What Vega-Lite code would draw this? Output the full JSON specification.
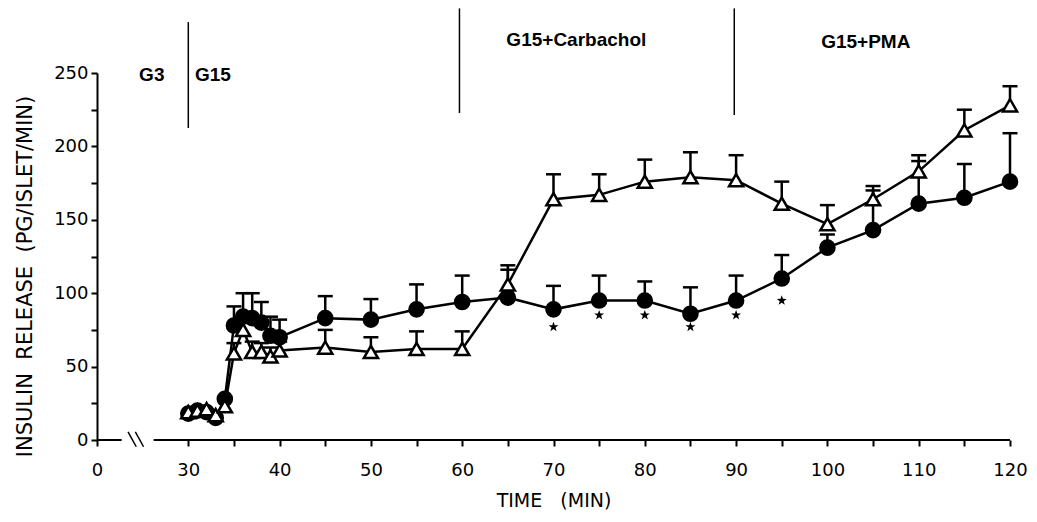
{
  "$schema": "https://vega.github.io/schema/vega-lite/v6.json",
  "width": 913,
  "height": 367,
  "autosize": "none",
  "padding": {"left": 97, "top": 73, "right": 27, "bottom": 82},
  "background": "white",
  "config": {
    "view": {"stroke": null},
    "axis": {"labelFont": "DejaVu Sans", "titleFont": "DejaVu Sans", "labelColor": "black", "titleColor": "black", "tickColor": "black", "domainColor": "black", "grid": false, "titleFontWeight": "normal"}
  },
  "datasets": {
    "series": [
      {"series": "A", "t": 30, "v": 18, "err": null},
      {"series": "A", "t": 31, "v": 20, "err": null},
      {"series": "A", "t": 32, "v": 19, "err": null},
      {"series": "A", "t": 33, "v": 15, "err": null},
      {"series": "A", "t": 34, "v": 28, "err": null},
      {"series": "A", "t": 35, "v": 78, "err": 91},
      {"series": "A", "t": 36, "v": 84, "err": 100},
      {"series": "A", "t": 37, "v": 83, "err": 100},
      {"series": "A", "t": 38, "v": 80, "err": 94},
      {"series": "A", "t": 39, "v": 71, "err": 84},
      {"series": "A", "t": 40, "v": 70, "err": 82},
      {"series": "A", "t": 45, "v": 83, "err": 98},
      {"series": "A", "t": 50, "v": 82, "err": 96},
      {"series": "A", "t": 55, "v": 89, "err": 106},
      {"series": "A", "t": 60, "v": 94, "err": 112},
      {"series": "A", "t": 65, "v": 97, "err": 116},
      {"series": "A", "t": 70, "v": 89, "err": 105},
      {"series": "A", "t": 75, "v": 95, "err": 112},
      {"series": "A", "t": 80, "v": 95, "err": 108},
      {"series": "A", "t": 85, "v": 86, "err": 104},
      {"series": "A", "t": 90, "v": 95, "err": 112},
      {"series": "A", "t": 95, "v": 110, "err": 126},
      {"series": "A", "t": 100, "v": 131, "err": 140},
      {"series": "A", "t": 105, "v": 143, "err": 170},
      {"series": "A", "t": 110, "v": 161, "err": 190},
      {"series": "A", "t": 115, "v": 165, "err": 188},
      {"series": "A", "t": 120, "v": 176, "err": 209},
      {"series": "B", "t": 30, "v": 19, "err": null},
      {"series": "B", "t": 31, "v": 20, "err": null},
      {"series": "B", "t": 32, "v": 21, "err": null},
      {"series": "B", "t": 33, "v": 17, "err": null},
      {"series": "B", "t": 34, "v": 23, "err": null},
      {"series": "B", "t": 35, "v": 59, "err": 66},
      {"series": "B", "t": 36, "v": 75, "err": 82},
      {"series": "B", "t": 37, "v": 60, "err": 67},
      {"series": "B", "t": 38, "v": 60, "err": 66},
      {"series": "B", "t": 39, "v": 57, "err": 63},
      {"series": "B", "t": 40, "v": 61, "err": 67},
      {"series": "B", "t": 45, "v": 63, "err": 75},
      {"series": "B", "t": 50, "v": 60, "err": 70},
      {"series": "B", "t": 55, "v": 62, "err": 74},
      {"series": "B", "t": 60, "v": 62, "err": 74},
      {"series": "B", "t": 65, "v": 106, "err": 119},
      {"series": "B", "t": 70, "v": 164, "err": 181},
      {"series": "B", "t": 75, "v": 167, "err": 181},
      {"series": "B", "t": 80, "v": 176, "err": 191},
      {"series": "B", "t": 85, "v": 179, "err": 196},
      {"series": "B", "t": 90, "v": 177, "err": 194},
      {"series": "B", "t": 95, "v": 161, "err": 176},
      {"series": "B", "t": 100, "v": 147, "err": 160},
      {"series": "B", "t": 105, "v": 164, "err": 173},
      {"series": "B", "t": 110, "v": 183, "err": 194},
      {"series": "B", "t": 115, "v": 211, "err": 225},
      {"series": "B", "t": 120, "v": 228, "err": 241}
    ],
    "stars": [
      {"t": 70, "v": 77}, {"t": 75, "v": 85}, {"t": 80, "v": 85},
      {"t": 85, "v": 77}, {"t": 90, "v": 85}, {"t": 95, "v": 95}
    ],
    "phases": [
      {"t": 30, "v": 212.5, "v2": 284.7},
      {"t": 59.7, "v": 222.8, "v2": 294},
      {"t": 89.8, "v": 221.4, "v2": 294}
    ],
    "labels": [
      {"t": 26.0, "v": 248.6, "label": "G3"},
      {"t": 32.7, "v": 248.6, "label": "G15"},
      {"t": 72.5, "v": 272.5, "label": "G15+Carbachol"},
      {"t": 104.2, "v": 271, "label": "G15+PMA"}
    ],
    "axisline": [
      {"t": 20, "t2": 22.7, "v": 0},
      {"t": 26.2, "t2": 120, "v": 0}
    ],
    "breaks": [
      {"t": 23.4, "t2": 24.3, "v": 5.6, "v2": -4.6},
      {"t": 24.2, "t2": 25.1, "v": 5.6, "v2": -4.6}
    ]
  },
  "encoding": {
    "x": {
      "field": "t", "type": "quantitative",
      "scale": {"domain": [20, 120], "nice": false, "zero": false},
      "title": "TIME\u00a0\u00a0\u00a0(MIN)",
      "axis": {
        "values": [20, 30, 35, 40, 45, 50, 55, 60, 65, 70, 75, 80, 85, 90, 95, 100, 105, 110, 115, 120],
        "labelExpr": "datum.value == 20 ? '0' : (datum.value % 10 == 0 ? datum.label : '')",
        "domain": false, "tickSize": 6, "tickWidth": 2, "labelFontSize": 18, "labelPadding": 15,
        "titleFontSize": 19, "titlePadding": 12, "labelFlush": false, "labelOverlap": false
      }
    },
    "y": {
      "field": "v", "type": "quantitative",
      "scale": {"domain": [0, 250], "nice": false},
      "title": "INSULIN\u00a0\u00a0RELEASE\u00a0\u00a0(PG/ISLET/MIN)",
      "axis": {
        "values": [0, 25, 50, 75, 100, 125, 150, 175, 200, 225, 250],
        "labelExpr": "datum.value % 50 == 0 ? datum.label : ''",
        "domainWidth": 2, "tickSize": 6, "tickWidth": 2, "labelFontSize": 18, "labelPadding": 3,
        "titleFontSize": 21, "titlePadding": 18, "titleY": 203, "labelOverlap": false
      }
    }
  },
  "layer": [
    {
      "data": {"name": "phases"},
      "mark": {"type": "rule", "strokeWidth": 1.5, "color": "black"},
      "encoding": {"y2": {"field": "v2"}}
    },
    {
      "data": {"name": "labels"},
      "mark": {"type": "text", "font": "Liberation Sans", "fontSize": 19, "fontWeight": "bold", "align": "center", "baseline": "middle", "color": "black"},
      "encoding": {"text": {"field": "label"}}
    },
    {
      "data": {"name": "axisline"},
      "mark": {"type": "rule", "strokeWidth": 2, "color": "black"},
      "encoding": {"x2": {"field": "t2"}}
    },
    {
      "data": {"name": "breaks"},
      "mark": {"type": "rule", "strokeWidth": 1.5, "color": "black"},
      "encoding": {"x2": {"field": "t2"}, "y2": {"field": "v2"}}
    },
    {
      "data": {"name": "series"},
      "mark": {"type": "line", "strokeWidth": 2.5, "color": "black"},
      "encoding": {"detail": {"field": "series"}}
    },
    {
      "data": {"name": "series"},
      "transform": [{"filter": "datum.err != null"}],
      "mark": {"type": "rule", "strokeWidth": 2.5, "color": "black"},
      "encoding": {"y2": {"field": "err"}}
    },
    {
      "data": {"name": "series"},
      "transform": [{"filter": "datum.err != null"}],
      "mark": {"type": "tick", "orient": "horizontal", "size": 15, "thickness": 2.5, "color": "black", "opacity": 1},
      "encoding": {"y": {"field": "err", "type": "quantitative", "title": "INSULIN\u00a0\u00a0RELEASE\u00a0\u00a0(PG/ISLET/MIN)"}}
    },
    {
      "data": {"name": "series"},
      "mark": {"type": "point", "stroke": "black", "strokeWidth": 2.5, "size": 200, "opacity": 1, "fillOpacity": 1},
      "encoding": {
        "shape": {"field": "series", "type": "nominal", "scale": {"domain": ["A", "B"], "range": ["circle", "triangle-up"]}, "legend": null},
        "fill": {"field": "series", "type": "nominal", "scale": {"domain": ["A", "B"], "range": ["black", "white"]}, "legend": null}
      }
    },
    {
      "data": {"name": "stars"},
      "mark": {"type": "point", "shape": "M0,-1L0.24,-0.33L0.95,-0.31L0.38,0.12L0.59,0.81L0,0.4L-0.59,0.81L-0.38,0.12L-0.95,-0.31L-0.24,-0.33Z", "filled": true, "color": "black", "size": 110, "opacity": 1}
    }
  ]
}
